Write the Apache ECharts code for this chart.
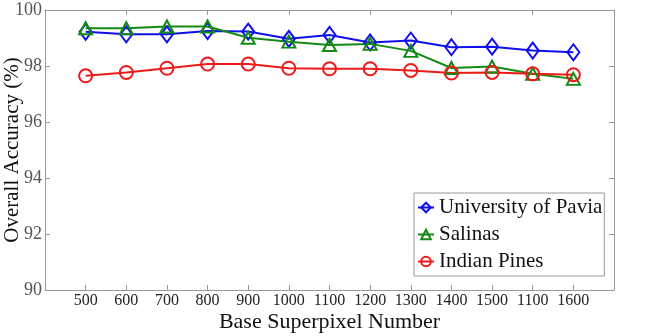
<!DOCTYPE html>
<html>
<head>
<meta charset="utf-8">
<script src="https://cdn.jsdelivr.net/npm/echarts@6/dist/echarts.min.js"></script>
<style>html,body{margin:0;padding:0;background:#fff}#c{width:645px;height:336px}</style>
</head>
<body>
<div id="c"></div>
<script>
// x positions of the 13 measurements (evenly spaced) and their printed tick labels
var xPositions = [500, 600, 700, 800, 900, 1000, 1100, 1200, 1300, 1400, 1500, 1600, 1700];
var tickLabels = ['500', '600', '700', '800', '900', '1000', '1100', '1200', '1300', '1400', '1500', '1100', '1600'];
var seriesNames = ['University of Pavia', 'Salinas', 'Indian Pines'];
var pavia   = [99.22, 99.13, 99.13, 99.25, 99.23, 98.97, 99.11, 98.84, 98.91, 98.67, 98.69, 98.55, 98.49];
var salinas = [99.35, 99.35, 99.41, 99.41, 99.01, 98.87, 98.75, 98.79, 98.54, 97.93, 97.98, 97.72, 97.54];
var indian  = [97.65, 97.77, 97.92, 98.07, 98.07, 97.92, 97.90, 97.90, 97.84, 97.75, 97.77, 97.72, 97.69];
var yTicks = [90, 92, 94, 96, 98, 100];

var FONT = 'Liberation Serif';
function pairs(vals){ return vals.map(function(v,i){ return [xPositions[i], v]; }); }
function mk(name, vals, color, symbol, size){
  return {
    name: name, type: 'line', data: pairs(vals),
    symbol: symbol, symbolSize: size, symbolKeepAspect: true,
    showAllSymbol: true,
    lineStyle: {color: color, width: 2},
    itemStyle: {color: 'rgba(255,255,255,0)', borderColor: color, borderWidth: 2},
    emphasis: {disabled: true},
    z: 3
  };
}
var chart = echarts.init(document.getElementById('c'), null, {renderer: 'canvas'});
var axisLineGrey = {show: true, lineStyle: {color: '#9a9a9a', width: 1}};
chart.setOption({
  animation: false,
  backgroundColor: '#fff',
  grid: {left: 45, right: 31, top: 10, bottom: 46, containLabel: false, outerBoundsMode: 'none'},
  legend: {
    data: seriesNames,
    orient: 'vertical', left: 414, top: 193,
    backgroundColor: '#fff', borderColor: '#9a9a9a', borderWidth: 1,
    padding: [4, 2, 4, 3], itemGap: 6, itemWidth: 16, itemHeight: 12,
    textStyle: {fontFamily: FONT, fontSize: 21, color: '#111'}
  },
  xAxis: [{
    type: 'value', min: 400, max: 1800, interval: 100, position: 'bottom',
    axisLine: axisLineGrey,
    axisTick: {show: true, inside: true, length: 5, lineStyle: {color: '#9a9a9a'}},
    splitLine: {show: false},
    axisLabel: {
      fontFamily: FONT, fontSize: 16, color: '#222', margin: 3,
      formatter: function(v){ var i = xPositions.indexOf(v); return i >= 0 ? tickLabels[i] : ''; }
    },
    name: 'Base Superpixel Number', nameLocation: 'middle', nameGap: 21, nameMoveOverlap: false,
    nameTextStyle: {fontFamily: FONT, fontSize: 22, color: '#111'}
  }, {
    type: 'value', min: 400, max: 1800, interval: 200, position: 'top',
    axisLine: axisLineGrey,
    axisTick: {show: true, inside: true, length: 5, lineStyle: {color: '#9a9a9a'}},
    axisLabel: {show: false}, splitLine: {show: false}
  }],
  yAxis: [{
    type: 'value', min: yTicks[0], max: yTicks[yTicks.length-1], interval: 2, position: 'left',
    axisLine: axisLineGrey,
    axisTick: {show: true, inside: true, length: 5, lineStyle: {color: '#9a9a9a'}},
    splitLine: {show: false},
    axisLabel: {fontFamily: FONT, fontSize: 18, color: '#555', margin: 3},
    name: 'Overall Accuracy (%)', nameLocation: 'middle', nameGap: 22, nameMoveOverlap: false,
    nameTextStyle: {fontFamily: FONT, fontSize: 21, color: '#111'}
  }, {
    type: 'value', min: yTicks[0], max: yTicks[yTicks.length-1], interval: 2, position: 'right',
    axisLine: axisLineGrey,
    axisTick: {show: true, inside: true, length: 5, lineStyle: {color: '#9a9a9a'}},
    axisLabel: {show: false}, splitLine: {show: false}
  }],
  series: [
    mk(seriesNames[0], pavia, '#1010ee', 'diamond', [12, 16]),
    mk(seriesNames[1], salinas, '#138a13', 'triangle', [13, 12]),
    mk(seriesNames[2], indian, '#ee1a1a', 'circle', 13)
  ]
});
</script>
</body>
</html>
